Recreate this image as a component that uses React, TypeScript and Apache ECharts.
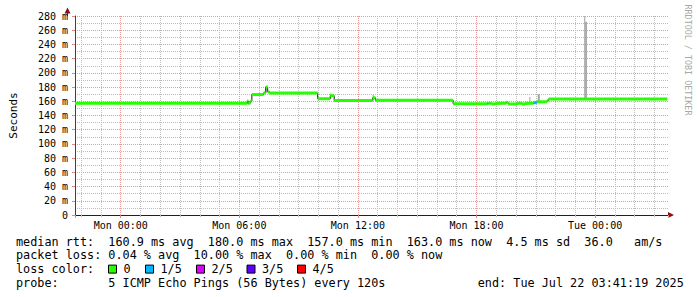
import React, { useEffect, useRef } from "react";
import * as echarts from "echarts";

// ---- axis / labels ----
const hourLabels = ["Mon 00:00", "Mon 06:00", "Mon 12:00", "Mon 18:00", "Tue 00:00"];
const labelHours = [0, 6, 12, 18, 24];
const axisStart = -2.3136; // Sun 21:41:19 (hours from Mon 00:00)
const axisEnd = 27.6886; // Tue 03:41:19
const yMax = 280;
const yStep = 20;

// ---- median rtt (step data): start hour, value in ms, lost pings of 5 ----
const stepStart = [
  -2.3136, 6.4, 6.45, 6.55, 6.635, 7.235, 7.335, 7.435, 7.535, 9.965, 10.6, 10.8, 12.75, 12.885,
  16.815, 18.55, 18.6, 18.75, 18.95, 19.5, 19.6, 20.05, 20.3, 20.45, 20.88, 21.05, 21.575, 21.65,
];
const stepValue = [
  157.2, 160.5, 157.2, 160, 169.5, 172, 180, 173, 171.5, 163.6, 168, 161.2, 165, 161.4,
  156.6, 157, 157.2, 156.3, 157.2, 158.5, 156.3, 157.2, 156.3, 157.2, 158, 159.3, 161, 163.2,
];
const stepLoss = [
  0, 0, 0, 0, 0, 0, 0, 0, 0, 0, 0, 0, 0, 0,
  0, 1, 0, 0, 0, 0, 0, 0, 0, 0, 1, 0, 0, 0,
];
const dataEnd = 27.65;

// ---- smoke (ping spread) ----
const smokeStart = [6.4, 7.335, 10.6, 12.75, 20.675, 21.1, 22.7, 23.45, 23.5];
const smokeEnd = [6.45, 7.385, 10.65, 12.8, 20.725, 21.2, 22.75, 23.5, 23.585];
const smokeLow = [157, 172, 163.6, 161, 157, 158, 161, 163, 163];
const smokeHigh = [161, 181, 171, 169, 166, 170, 163, 280, 272];

// ---- legend ----
const lossLabels = ["0", "1/5", "2/5", "3/5", "4/5"];
const lossColors = ["#26ff00", "#00b8ff", "#dd00ff", "#5e00ff", "#ff0000"];
const statLines = [
  "median rtt:  160.9 ms avg  180.0 ms max  157.0 ms min  163.0 ms now  4.5 ms sd  36.0   am/s",
  "packet loss: 0.04 % avg  10.00 % max  0.00 % min  0.00 % now",
  "loss color:",
  "probe:       5 ICMP Echo Pings (56 Bytes) every 120s",
];
const endText = "end: Tue Jul 22 03:41:19 2025";
const watermark = "RRDTOOL / TOBI OETIKER";

const MONO = '"DejaVu Sans Mono", monospace';

export default function App() {
  const ref = useRef<HTMLDivElement>(null);

  useEffect(() => {
    if (!ref.current) return;
    const chart = echarts.init(ref.current, null, { renderer: "svg" });

    const stepData: number[][] = stepStart.map((s, i) => [s, stepValue[i]]);
    stepData.push([dataEnd, stepValue[stepValue.length - 1]]);
    const barData = stepStart.map((s, i) => [
      s,
      i + 1 < stepStart.length ? stepStart[i + 1] : dataEnd,
      stepValue[i],
      stepLoss[i],
    ]);
    const smokeData = smokeStart.map((s, i) => [s, smokeEnd[i], smokeLow[i], smokeHigh[i]]);

    const cw = 7.104;
    const fs = 11.8;
    const x0 = 16;
    const rowY = [241.5, 255.3, 269.1, 282.9];
    const graphics: any[] = [];
    const words = (str: string, xs: number, y: number) => {
      const re = /\S+/g;
      let m: RegExpExecArray | null;
      while ((m = re.exec(str))) {
        graphics.push({
          type: "text",
          x: xs + m.index * cw,
          y,
          silent: true,
          style: { text: m[0], fontFamily: MONO, fontSize: fs, fill: "#000", verticalAlign: "middle" },
        });
      }
    };
    statLines.forEach((l, i) => words(l, x0, rowY[i]));
    words(endText, x0 + 65 * cw, rowY[3]);
    const swatchX = [108.5, 145.5, 196.5, 247, 297.5];
    lossLabels.forEach((lab, i) => {
      graphics.push({
        type: "rect",
        shape: { x: swatchX[i], y: rowY[2] - 4, width: 8, height: 8 },
        style: { fill: lossColors[i], stroke: "#000", lineWidth: 1 },
      });
      words(lab, swatchX[i] + 15, rowY[2]);
    });
    // axis arrows
    graphics.push({
      type: "line",
      shape: { x1: 67.5, y1: 16, x2: 67.5, y2: 12 },
      style: { stroke: "#404040", lineWidth: 1 },
    });
    graphics.push({
      type: "polygon",
      shape: { points: [[64.5, 13.5], [70.5, 13.5], [67.5, 7.5]] },
      style: { fill: "#8b1010" },
    });
    graphics.push({
      type: "polygon",
      shape: { points: [[668, 212], [668, 218], [674, 215]] },
      style: { fill: "#8b1010" },
    });
    graphics.push({
      type: "text",
      x: 688,
      y: 60,
      rotation: -Math.PI / 2,
      style: {
        text: watermark,
        fontFamily: MONO,
        fontSize: 8.4,
        fill: "#a8a8a8",
        align: "center",
        verticalAlign: "middle",
      },
    });

    const option: any = {
      animation: false,
      backgroundColor: "#ffffff",
      grid: { left: 67, right: 29, top: 16, bottom: 82, containLabel: false },
      xAxis: {
        type: "value",
        min: axisStart,
        max: axisEnd,
        minInterval: 6,
        maxInterval: 6,
        splitNumber: 5,
        axisLine: { show: true, onZero: false, lineStyle: { color: "#202020", width: 1 } },
        axisTick: { show: true, length: 3, lineStyle: { color: "#e08888" } },
        minorTick: { show: true, splitNumber: 6, length: 2, lineStyle: { color: "#c0c0c0" } },
        axisLabel: {
          fontFamily: MONO,
          fontSize: 10,
          color: "#000",
          margin: 5,
          showMinLabel: false,
          showMaxLabel: false,
          formatter: (v: number) => {
            const i = labelHours.findIndex((h) => Math.abs(h - v) < 1e-6);
            return i >= 0 ? hourLabels[i] : "";
          },
        },
        splitLine: {
          show: true,
          showMinLine: false,
          showMaxLine: false,
          lineStyle: { color: "#e89a9a", type: [1, 1], width: 1 },
        },
        minorSplitLine: { show: true, lineStyle: { color: "#bdbdbd", type: [1, 1], width: 1 } },
      },
      yAxis: {
        type: "value",
        min: 0,
        max: yMax,
        interval: yStep,
        name: "Seconds",
        nameLocation: "middle",
        nameGap: 56,
        nameRotate: 90,
        nameTextStyle: { fontFamily: MONO, fontSize: 11, color: "#000" },
        axisLine: { show: true, onZero: false, lineStyle: { color: "#404040", width: 1 } },
        axisTick: { show: true, length: 3, lineStyle: { color: "#e08888" } },
        minorTick: { show: false, splitNumber: 2 },
        axisLabel: {
          fontFamily: MONO,
          fontSize: 10,
          color: "#000",
          margin: 7,
          formatter: (v: number) => (v === 0 ? "0" : v + " m"),
        },
        splitLine: { show: true, lineStyle: { color: "#e89a9a", type: [1, 1], width: 1 } },
        minorSplitLine: { show: true, lineStyle: { color: "#bdbdbd", type: [1, 1], width: 1 } },
      },
      series: [
        {
          type: "custom",
          name: "smoke",
          data: smokeData,
          encode: { x: [0, 1], y: [2, 3] },
          renderItem: (params: any, api: any) => {
            const p1 = api.coord([api.value(0), api.value(3)]);
            const p2 = api.coord([api.value(1), api.value(2)]);
            return {
              type: "rect",
              shape: { x: p1[0], y: p1[1], width: Math.max(1, p2[0] - p1[0]), height: p2[1] - p1[1] },
              style: { fill: "#a0a0a0" },
            };
          },
          z: 2,
        },
        {
          type: "line",
          name: "median-step",
          data: stepData,
          step: "end",
          showSymbol: false,
          symbol: "none",
          lineStyle: { color: "#1a1a1a", width: 1 },
          z: 3,
        },
        {
          type: "custom",
          name: "median",
          data: barData,
          encode: { x: [0, 1], y: 2 },
          renderItem: (params: any, api: any) => {
            const p1 = api.coord([api.value(0), api.value(2)]);
            const p2 = api.coord([api.value(1), api.value(2)]);
            return {
              type: "rect",
              shape: { x: p1[0], y: p1[1] - 1.5, width: Math.max(1, p2[0] - p1[0]), height: 3 },
              style: { fill: lossColors[api.value(3)] },
            };
          },
          z: 4,
        },
      ],
      graphic: graphics,
    };
    chart.setOption(option);
    return () => chart.dispose();
  }, []);

  return (
    <div
      ref={ref}
      style={{ position: "absolute", left: 0, top: 0, width: 697, height: 297, background: "#fff" }}
    />
  );
}
